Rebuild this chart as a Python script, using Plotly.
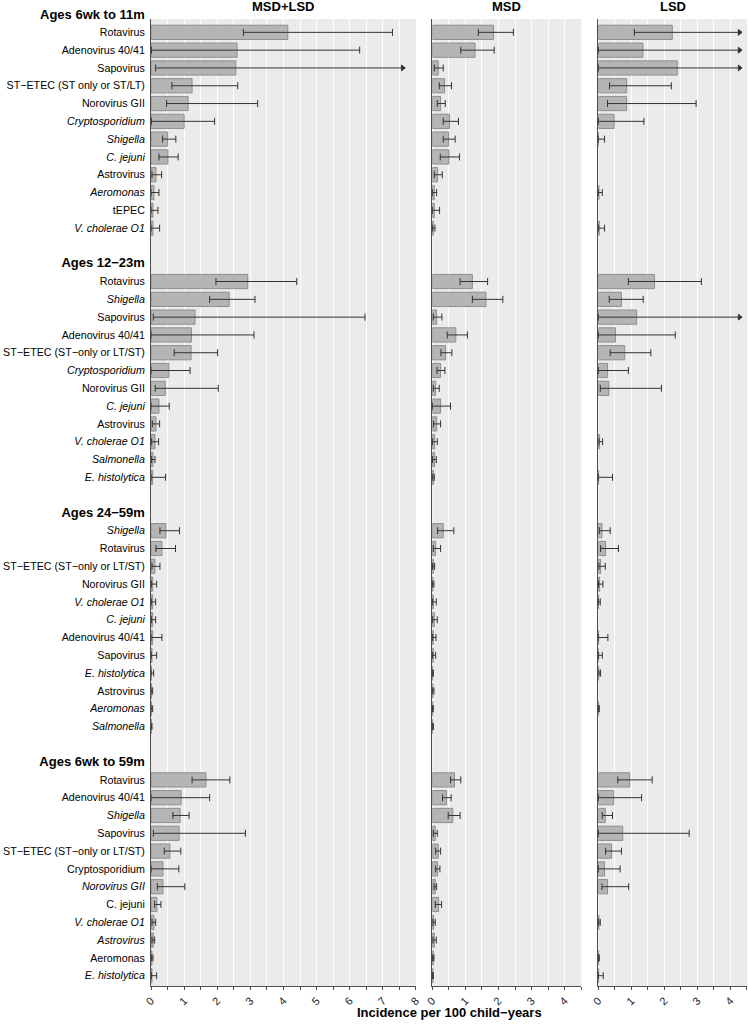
import plotly.graph_objects as go
from plotly.subplots import make_subplots

M = "\u2212"
PANELS = ["MSD+LSD", "MSD", "LSD"]
PANEL_MAX = [8, 4.5, 4.5]
AGE_GROUPS = ["Ages 6wk to 11m", f"Ages 12{M}23m", f"Ages 24{M}59m", "Ages 6wk to 59m"]

# ---------------- Ages 6wk to 11m ----------------
g1_pathogens = ["Rotavirus", "Adenovirus 40/41", "Sapovirus", f"ST{M}ETEC (ST only or ST/LT)",
                "Norovirus GII", "Cryptosporidium", "Shigella", "C. jejuni", "Astrovirus",
                "Aeromonas", "tEPEC", "V. cholerae O1"]
g1_italic = [0, 0, 0, 0, 0, 1, 1, 1, 0, 1, 0, 1]
g1_all = [4.13, 2.60, 2.56, 1.24, 1.12, 1.00, 0.50, 0.51, 0.15, 0.09, 0.06, 0.06]
g1_all_lo = [2.79, 0.01, 0.14, 0.63, 0.47, 0.01, 0.35, 0.24, 0.03, 0.0, 0.0, 0.0]
g1_all_hi = [7.29, 6.30, 11.5, 2.62, 3.22, 1.92, 0.75, 0.82, 0.32, 0.24, 0.21, 0.26]
g1_msd = [1.85, 1.29, 0.18, 0.37, 0.25, 0.52, 0.49, 0.50, 0.16, 0.06, 0.06, 0.03]
g1_msd_lo = [1.39, 0.86, 0.06, 0.21, 0.15, 0.33, 0.33, 0.24, 0.06, 0.0, 0.0, 0.0]
g1_msd_hi = [2.45, 1.87, 0.33, 0.58, 0.39, 0.79, 0.69, 0.82, 0.30, 0.13, 0.22, 0.08]
g1_lsd = [2.24, 1.35, 2.39, 0.86, 0.86, 0.48, 0.0, None, None, 0.02, None, 0.03]
g1_lsd_lo = [1.09, 0.0, 0.0, 0.34, 0.28, 0.0, 0.0, None, None, 0.0, None, 0.0]
g1_lsd_hi = [5.6, 6.2, 9.8, 2.21, 2.96, 1.38, 0.19, None, None, 0.12, None, 0.19]

# ---------------- Ages 12-23m ----------------
g2_pathogens = ["Rotavirus", "Shigella", "Sapovirus", "Adenovirus 40/41", f"ST{M}ETEC (ST{M}only or LT/ST)",
                "Cryptosporidium", "Norovirus GII", "C. jejuni", "Astrovirus", "V. cholerae O1",
                "Salmonella", "E. histolytica"]
g2_italic = [0, 1, 0, 0, 0, 1, 0, 1, 0, 1, 1, 1]
g2_all = [2.92, 2.36, 1.33, 1.22, 1.21, 0.54, 0.43, 0.24, 0.15, 0.12, 0.06, 0.05]
g2_all_lo = [1.96, 1.77, 0.07, 0.0, 0.70, 0.0, 0.13, 0.0, 0.04, 0.02, 0.02, 0.0]
g2_all_hi = [4.40, 3.14, 6.46, 3.11, 2.01, 1.18, 2.03, 0.55, 0.26, 0.23, 0.12, 0.44]
g2_msd = [1.21, 1.62, 0.13, 0.71, 0.40, 0.25, 0.10, 0.25, 0.13, 0.07, 0.07, 0.04]
g2_msd_lo = [0.84, 1.21, 0.03, 0.45, 0.26, 0.14, 0.03, 0.0, 0.04, 0.01, 0.01, 0.0]
g2_msd_hi = [1.67, 2.13, 0.29, 1.06, 0.59, 0.38, 0.21, 0.55, 0.25, 0.15, 0.12, 0.06]
g2_lsd = [1.70, 0.70, 1.16, 0.52, 0.80, 0.28, 0.32, None, None, 0.04, None, 0.01]
g2_lsd_lo = [0.91, 0.33, 0.0, 0.0, 0.36, 0.0, 0.06, None, None, 0.02, None, 0.0]
g2_lsd_hi = [3.12, 1.36, 8.9, 2.33, 1.59, 0.91, 1.91, None, None, 0.13, None, 0.43]

# ---------------- Ages 24-59m ----------------
g3_pathogens = ["Shigella", "Rotavirus", f"ST{M}ETEC (ST{M}only or LT/ST)", "Norovirus GII",
                "V. cholerae O1", "C. jejuni", "Adenovirus 40/41", "Sapovirus", "E. histolytica",
                "Astrovirus", "Aeromonas", "Salmonella"]
g3_italic = [1, 0, 0, 0, 1, 1, 0, 0, 1, 0, 1, 1]
g3_all = [0.45, 0.33, 0.12, 0.05, 0.05, 0.05, 0.05, 0.03, 0.01, 0.02, 0.01, 0.01]
g3_all_lo = [0.27, 0.15, 0.03, 0.01, 0.01, 0.01, 0.0, 0.01, 0.0, 0.0, 0.0, 0.0]
g3_all_hi = [0.86, 0.74, 0.27, 0.17, 0.14, 0.14, 0.33, 0.17, 0.08, 0.05, 0.05, 0.03]
g3_msd = [0.33, 0.10, 0.03, 0.02, 0.03, 0.06, 0.03, 0.03, 0.01, 0.02, 0.01, 0.01]
g3_msd_lo = [0.16, 0.03, 0.01, 0.0, 0.01, 0.01, 0.01, 0.01, 0.0, 0.0, 0.0, 0.0]
g3_msd_hi = [0.65, 0.25, 0.07, 0.05, 0.12, 0.15, 0.11, 0.10, 0.03, 0.05, 0.03, 0.03]
g3_lsd = [0.11, 0.22, 0.07, 0.04, 0.01, None, 0.01, 0.0, 0.01, None, 0.01, None]
g3_lsd_lo = [0.03, 0.07, 0.02, 0.01, 0.0, None, 0.0, 0.01, 0.02, None, 0.0, None]
g3_lsd_hi = [0.36, 0.61, 0.21, 0.14, 0.06, None, 0.29, 0.12, 0.07, None, 0.03, None]

# ---------------- Ages 6wk to 59m ----------------
g4_pathogens = ["Rotavirus", "Adenovirus 40/41", "Shigella", "Sapovirus", f"ST{M}ETEC (ST{M}only or LT/ST)",
                "Cryptosporidium", "Norovirus GII", "C. jejuni", "V. cholerae O1", "Astrovirus",
                "Aeromonas", "E. histolytica"]
g4_italic = [0, 0, 1, 0, 0, 0, 1, 0, 1, 1, 0, 1]
g4_all = [1.66, 0.91, 0.88, 0.85, 0.57, 0.36, 0.36, 0.18, 0.09, 0.07, 0.03, 0.03]
g4_all_lo = [1.24, 0.0, 0.66, 0.07, 0.40, 0.0, 0.19, 0.11, 0.03, 0.03, 0.01, 0.01]
g4_all_hi = [2.38, 1.77, 1.15, 2.85, 0.90, 0.84, 1.02, 0.30, 0.14, 0.11, 0.06, 0.17]
g4_msd = [0.67, 0.43, 0.62, 0.09, 0.18, 0.16, 0.09, 0.19, 0.04, 0.06, 0.03, 0.02]
g4_msd_lo = [0.55, 0.31, 0.48, 0.03, 0.10, 0.10, 0.05, 0.09, 0.02, 0.02, 0.01, 0.01]
g4_msd_hi = [0.86, 0.57, 0.84, 0.15, 0.25, 0.23, 0.13, 0.28, 0.09, 0.12, 0.05, 0.03]
g4_lsd = [0.95, 0.47, 0.21, 0.74, 0.40, 0.19, 0.28, None, 0.02, None, 0.01, 0.01]
g4_lsd_lo = [0.59, 0.0, 0.12, 0.0, 0.22, 0.0, 0.11, None, 0.01, None, 0.0, 0.0]
g4_lsd_hi = [1.63, 1.31, 0.43, 2.75, 0.70, 0.66, 0.92, None, 0.06, None, 0.03, 0.15]

groups = [
    (g1_pathogens, g1_italic, [(g1_all, g1_all_lo, g1_all_hi), (g1_msd, g1_msd_lo, g1_msd_hi), (g1_lsd, g1_lsd_lo, g1_lsd_hi)]),
    (g2_pathogens, g2_italic, [(g2_all, g2_all_lo, g2_all_hi), (g2_msd, g2_msd_lo, g2_msd_hi), (g2_lsd, g2_lsd_lo, g2_lsd_hi)]),
    (g3_pathogens, g3_italic, [(g3_all, g3_all_lo, g3_all_hi), (g3_msd, g3_msd_lo, g3_msd_hi), (g3_lsd, g3_lsd_lo, g3_lsd_hi)]),
    (g4_pathogens, g4_italic, [(g4_all, g4_all_lo, g4_all_hi), (g4_msd, g4_msd_lo, g4_msd_hi), (g4_lsd, g4_lsd_lo, g4_lsd_hi)]),
]

FONT = "Liberation Sans, Arial, Helvetica, sans-serif"
BAR_FILL = "#b5b5b5"
BAR_LINE = "#8e8e8e"
ERR = "#333333"
PANEL_BG = "#ebebeb"

fig = make_subplots(rows=1, cols=3, shared_yaxes=True, horizontal_spacing=0.02)

# row positions
tickvals, ticktext = [], []
rows_per_group = []
for gi, (paths, ital, _) in enumerate(groups):
    start = gi * 14
    if gi > 0:
        tickvals.append(start)
        ticktext.append(f"<b><span style='font-size:13px'>{AGE_GROUPS[gi]}</span></b>")
    rws = []
    for j, p in enumerate(paths):
        r = start + 1 + j
        rws.append(r)
        tickvals.append(r)
        ticktext.append(f"<i>{p}</i>" if ital[j] else p)
    rows_per_group.append(rws)

for pi in range(3):
    lim = 0.95 * PANEL_MAX[pi]
    bx, by = [], []
    ex, ey, esym = [], [], []
    for gi, (paths, ital, measures) in enumerate(groups):
        vals, los, his = measures[pi]
        for j, r in enumerate(rows_per_group[gi]):
            v, lo, hi = vals[j], los[j], his[j]
            if v is None:
                continue
            bx.append(v)
            by.append(r)
            trunc = hi > lim
            ex += [lo, min(hi, lim), None]
            ey += [r, r, None]
            esym += ["line-ns-open", "triangle-right" if trunc else "line-ns-open", "circle"]
    fig.add_trace(go.Bar(x=bx, y=by, orientation="h", width=0.8,
                         marker=dict(color=BAR_FILL, line=dict(color=BAR_LINE, width=1)),
                         showlegend=False, hoverinfo="x"), row=1, col=pi + 1)
    fig.add_trace(go.Scatter(x=ex, y=ey, mode="lines+markers",
                             line=dict(color=ERR, width=1),
                             marker=dict(symbol=esym, size=5, color=ERR, line=dict(color=ERR, width=1)),
                             cliponaxis=False, showlegend=False, hoverinfo="skip"),
                  row=1, col=pi + 1)

domains = [[0.0, 0.4446], [0.472, 0.722], [0.7505, 1.0]]
for pi in range(3):
    ax = "xaxis" if pi == 0 else f"xaxis{pi + 1}"
    fig.layout[ax].update(
        domain=domains[pi], range=[0, PANEL_MAX[pi]], dtick=1, tick0=0,
        showgrid=True, gridcolor="white", gridwidth=1,
        minor=dict(dtick=0.5, showgrid=True, gridcolor="white", gridwidth=0.5,
                   ticks="outside", ticklen=3, tickcolor="#4d4d4d"),
        ticks="outside", ticklen=3, tickcolor="#4d4d4d",
        showline=True, linecolor="#4d4d4d", linewidth=1,
        tickangle=-45, tickfont=dict(size=11, color="#1a1a1a", family=FONT),
        zeroline=False, fixedrange=True, automargin=False,
    )
    ay = "yaxis" if pi == 0 else f"yaxis{pi + 1}"
    fig.layout[ay].update(
        range=[54.58, 0.25], showgrid=False, zeroline=False,
        showline=True, linecolor="#4d4d4d", linewidth=1,
        tickvals=tickvals, ticktext=ticktext if pi == 0 else None,
        showticklabels=(pi == 0), ticks="",
        tickfont=dict(size=10.7, color="black", family=FONT),
        ticklabelstandoff=3, automargin=False, fixedrange=True,
    )

FIG_W, FIG_H = 748, 1027
MT, MB, ML, MR = 19, 41, 151, 1
PLOT_H = FIG_H - MT - MB

annotations = []
for pi in range(3):
    annotations.append(dict(text=f"<b>{PANELS[pi]}</b>", xref="paper", yref="paper",
                            x=(domains[pi][0] + domains[pi][1]) / 2, y=1 + 12 / PLOT_H,
                            xanchor="center", yanchor="middle", showarrow=False,
                            font=dict(size=13, color="black", family=FONT)))
annotations.append(dict(text=f"<b>{AGE_GROUPS[0]}</b>", xref="paper", yref="paper",
                        x=0, xshift=-4, y=1 + 4.5 / PLOT_H, xanchor="right", yanchor="middle",
                        showarrow=False, font=dict(size=13, color="black", family=FONT)))
annotations.append(dict(text=f"<b>Incidence per 100 child{M}years</b>", xref="paper", yref="paper",
                        x=0.5, y=-26 / PLOT_H, xanchor="center", yanchor="middle", showarrow=False,
                        font=dict(size=13, color="black", family=FONT)))

fig.update_layout(
    width=FIG_W, height=FIG_H,
    margin=dict(l=ML, r=MR, t=MT, b=MB),
    paper_bgcolor="white", plot_bgcolor=PANEL_BG,
    font=dict(family=FONT, size=11, color="black"),
    bargap=0.2, annotations=annotations, showlegend=False,
)

# remove the default 8px page margin so the 748x1027 figure fills the window exactly
fig.write_html("out.html", config={"displayModeBar": False},
               post_script="document.body.style.margin='0px';")
